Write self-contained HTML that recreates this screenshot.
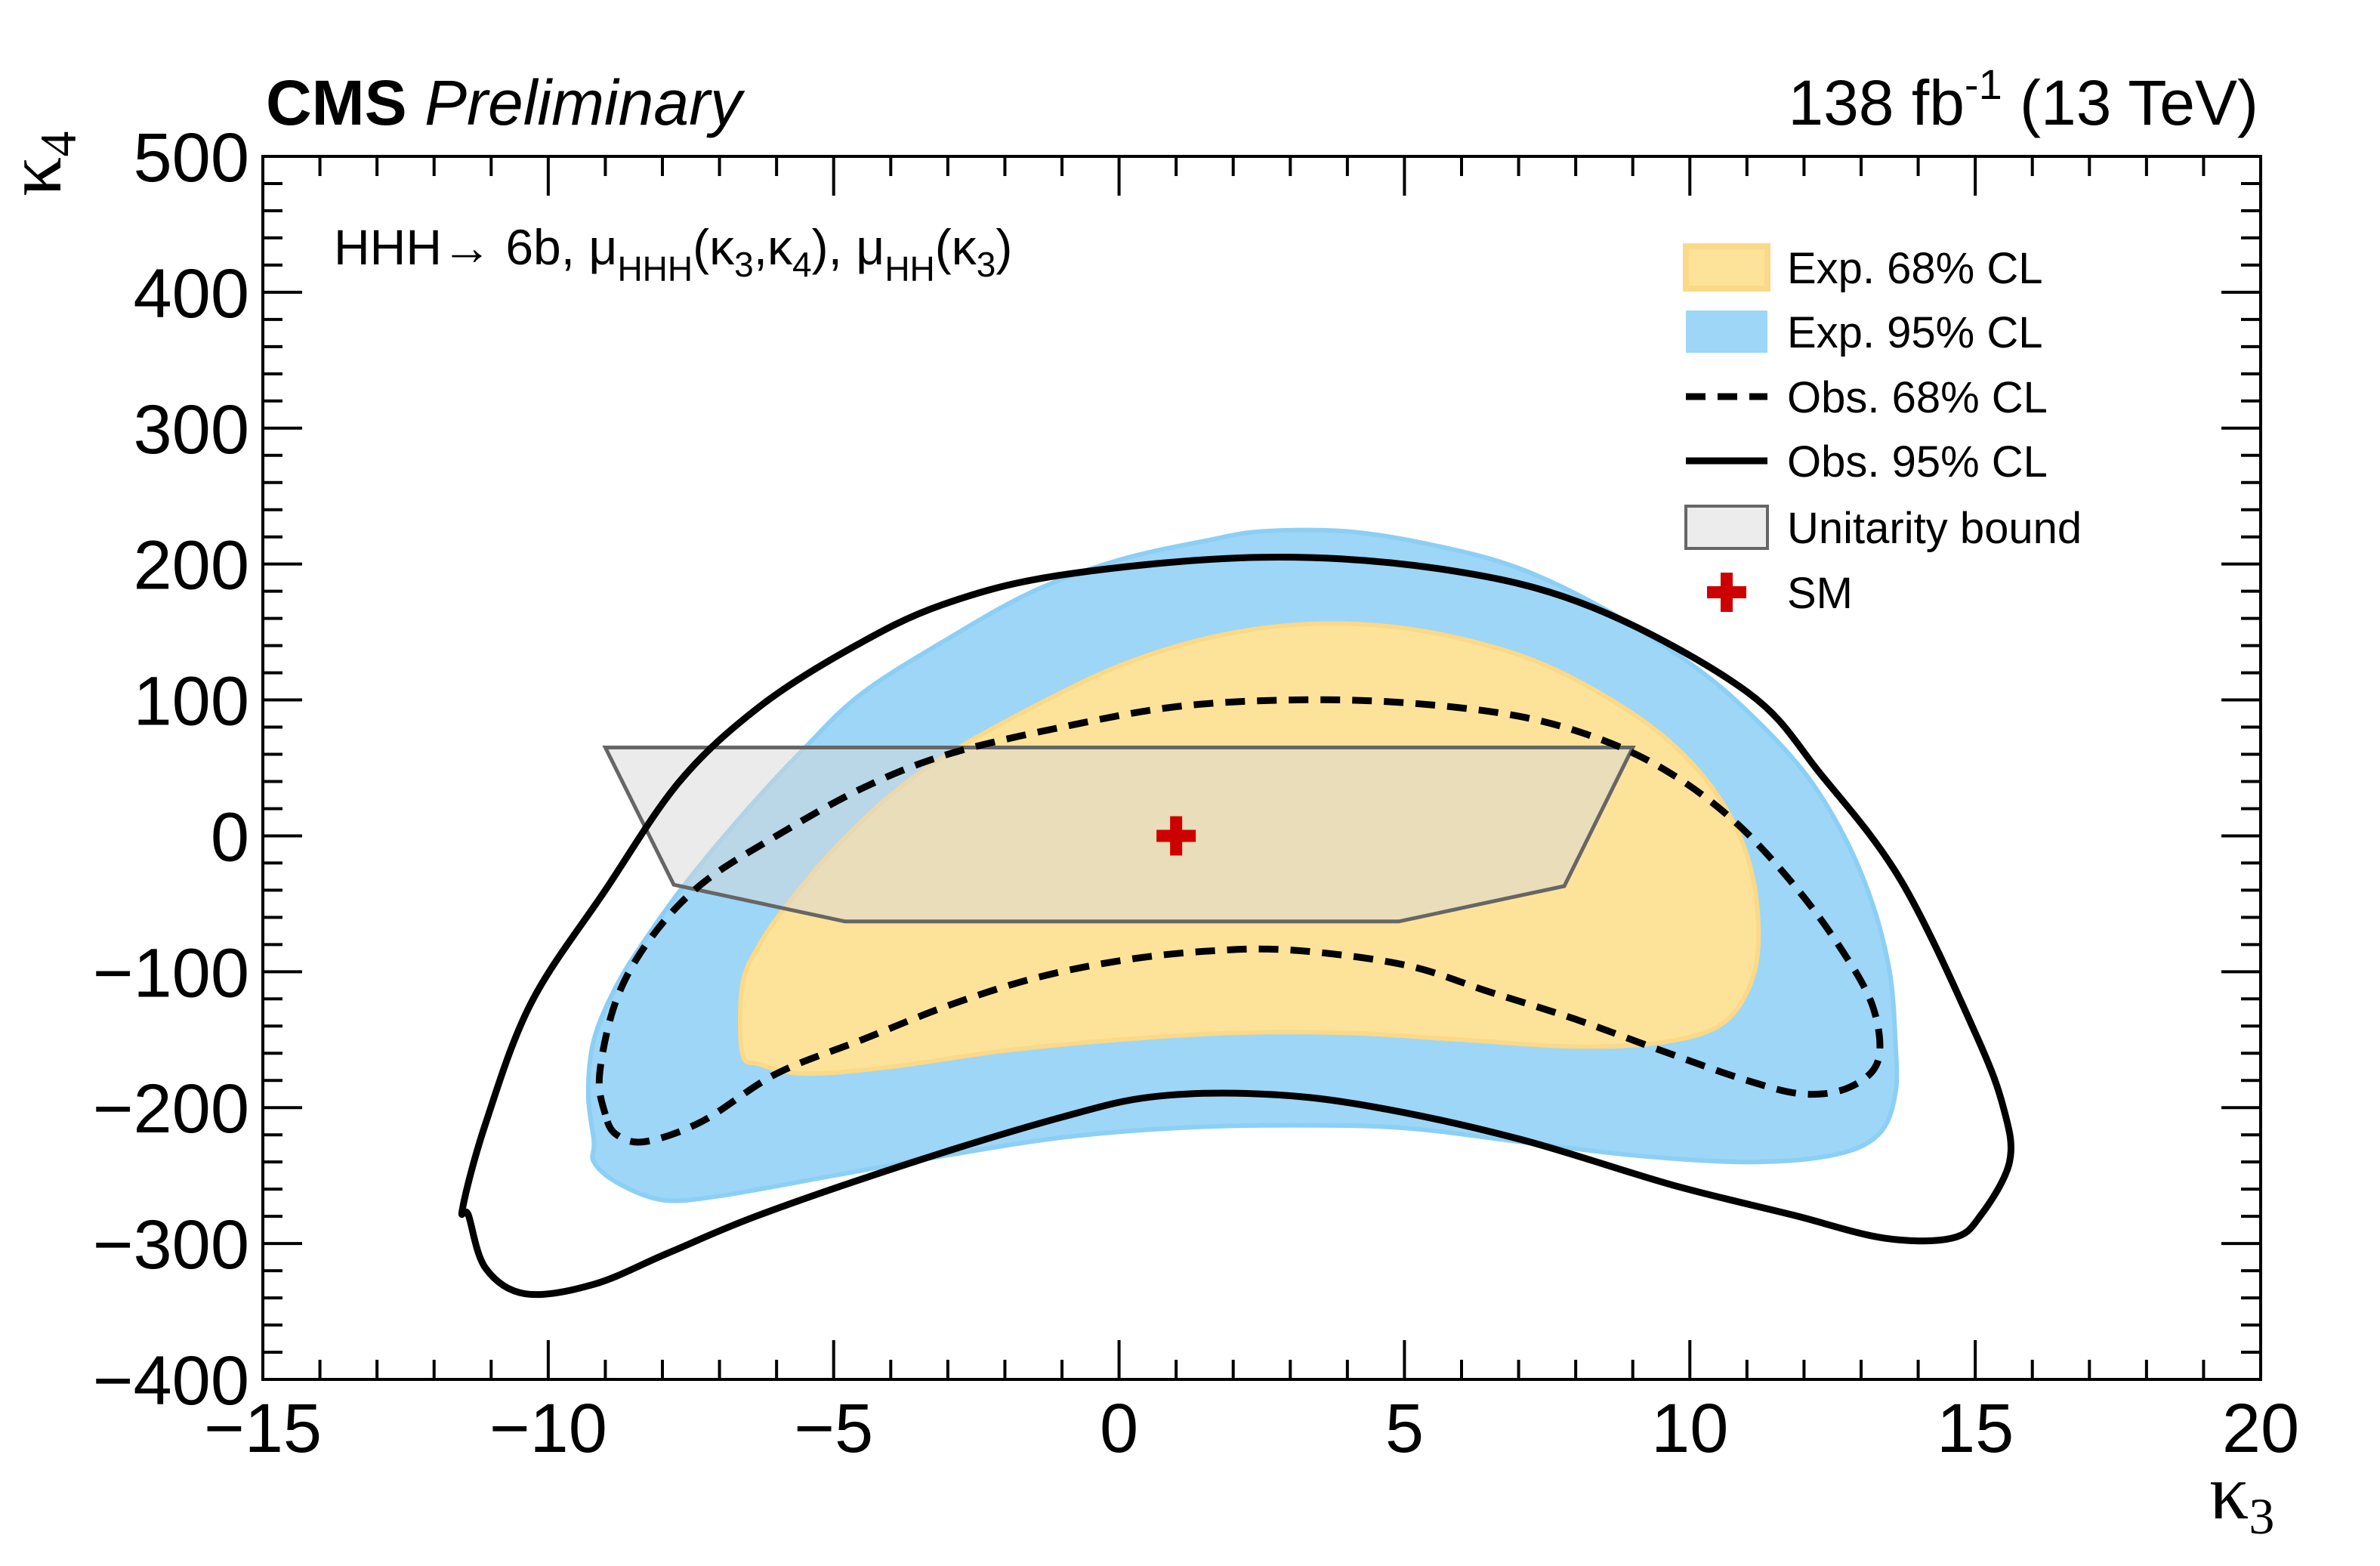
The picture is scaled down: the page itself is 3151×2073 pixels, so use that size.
<!DOCTYPE html>
<html><head><meta charset="utf-8"><style>
html,body{margin:0;padding:0;background:#fff}
svg{display:block}
text{font-family:"Liberation Sans",sans-serif;fill:#000}
</style></head><body>
<svg id="chart" width="3151" height="2073" viewBox="0 0 3151 2073" xmlns="http://www.w3.org/2000/svg">
<g id="marks"></g>
<g id="axes"></g>
<text x="352" y="165" font-size="84" font-weight="bold">CMS <tspan font-weight="normal" font-style="italic">Preliminary</tspan></text>
<text x="2990" y="165" font-size="84" text-anchor="end">138 fb<tspan font-size="56" dy="-34">-1</tspan><tspan dy="34"> (13 TeV)</tspan></text>
<text x="442" y="350" font-size="66">HHH→ 6b, μ<tspan font-size="46" dy="22">HHH</tspan><tspan dy="-22">(κ</tspan><tspan font-size="46" dy="16">3</tspan><tspan dy="-16">,κ</tspan><tspan font-size="46" dy="16">4</tspan><tspan dy="-16">), μ</tspan><tspan font-size="46" dy="22">HH</tspan><tspan dy="-22">(κ</tspan><tspan font-size="46" dy="16">3</tspan><tspan dy="-16">)</tspan></text>
<text transform="translate(80,260) rotate(-90)" font-size="104" style="font-family:'Liberation Serif',serif">κ<tspan font-size="68" dy="20">4</tspan></text>
<text x="2925" y="2010" font-size="104" style="font-family:'Liberation Serif',serif">κ<tspan font-size="68" dy="20">3</tspan></text>
<g id="legend"></g>
</svg>
<script>
const NS="http://www.w3.org/2000/svg";
const xTicks=[-15,-10,-5,0,5,10,15,20];
const yTicks=[-400,-300,-200,-100,0,100,200,300,400,500];
const exp95K3=[-9.2,-9.3,-9.2,-8.8,-8.2,-7.5,-6.5,-5.5,-4.5,-3,-1.5,0,1.5,2.5,4,5.5,7,8.5,10,11,12,12.7,13.2,13.5,13.6,13.6,13.3,12.5,11,9,7,5,3,1,-1,-3,-5,-7,-8,-8.8,-9.2];
const exp95K4=[-225,-190,-150,-110,-70,-30,20,65,105,145,180,203,217,224,224,214,197,167,127,92,47,0,-50,-100,-150,-190,-220,-235,-240,-235,-225,-215,-213,-215,-222,-235,-250,-265,-268,-255,-240];
const exp68K3=[-6.6,-6.6,-6.3,-5.8,-5,-4,-3,-1.5,0,1.5,3,4.5,6,7.5,9,10,10.7,11.1,11.2,11,10.5,9.5,8,6,4,2,0,-2,-4,-5.5,-6.3];
const exp68K4=[-160,-110,-80,-50,-10,30,60,95,125,145,155,155,145,125,90,55,15,-30,-80,-115,-140,-152,-155,-150,-145,-145,-150,-158,-170,-175,-168];
const obs68K3=[-9,-9.1,-8.8,-8.2,-7.3,-6,-4.5,-3,-1,1,3,5,7,8.5,9.7,10.8,11.8,12.6,13.2,13.3,12.8,12,11,9.5,8,6.5,5,3,1.5,0,-1.5,-3,-4.5,-6,-7.3,-8.3,-8.8];
const obs68K4=[-205,-175,-120,-75,-35,0,35,60,80,95,100,98,88,70,45,10,-35,-80,-125,-165,-185,-190,-180,-158,-135,-115,-95,-84,-85,-92,-105,-125,-150,-175,-210,-225,-220];
const obs95K3=[-11.5,-11.1,-10.3,-9,-7.7,-6.3,-4.7,-3.1,-1,2.5,5.7,8.3,11,12.3,13.7,15,15.5,15.6,15.1,14.6,13.4,11.8,9.7,7,4.4,2.5,0.6,-1,-3.6,-6.3,-7.9,-9.2,-10.4,-11.1,-11.4];
const obs95K4=[-274,-212,-123,-40,40,95,138,170,192,205,196,168,106,45,-33,-145,-201,-240,-279,-296,-296,-279,-257,-223,-199,-190,-192,-207,-240,-279,-307,-330,-337,-318,-279];
const unitK3=[-9,9,7.8,4.9,-4.8,-7.8];
const unitK4=[65,65,-37,-63,-63,-36];
const smK3=[1], smK4=[0];

const L=348,R=2993,T=207,B=1826,X0=-15,X1=20,Y0=-400,Y1=500;
const sx=v=>L+(v-X0)/(X1-X0)*(R-L);
const sy=v=>B-(v-Y0)/(Y1-Y0)*(B-T);
function el(tag,attrs,parent){const e=document.createElementNS(NS,tag);for(const k in attrs)e.setAttribute(k,attrs[k]);parent.appendChild(e);return e;}
function pts(xs,ys){return xs.map((x,i)=>sx(x).toFixed(1)+","+sy(ys[i]).toFixed(1)).join(" ");}
function smooth(xs,ys){const P=xs.map((x,i)=>[sx(x),sy(ys[i])]);const n=P.length;
 let d=`M${P[0][0].toFixed(1)},${P[0][1].toFixed(1)}`;
 for(let i=0;i<n;i++){const p0=P[(i-1+n)%n],p1=P[i],p2=P[(i+1)%n],p3=P[(i+2)%n];
  const c1=[p1[0]+(p2[0]-p0[0])/6,p1[1]+(p2[1]-p0[1])/6],c2=[p2[0]-(p3[0]-p1[0])/6,p2[1]-(p3[1]-p1[1])/6];
  d+=`C${c1[0].toFixed(1)},${c1[1].toFixed(1)} ${c2[0].toFixed(1)},${c2[1].toFixed(1)} ${p2[0].toFixed(1)},${p2[1].toFixed(1)}`;}
 return d+'Z';}
const marks=document.getElementById('marks');
let p;
p=el('path',{d:smooth(exp95K3,exp95K4),fill:'#9dd6f7',stroke:'#8ccff5','stroke-width':6,'stroke-linejoin':'round'},marks);


p=el('path',{d:smooth(exp68K3,exp68K4),fill:'#fde39a',stroke:'#fcd987','stroke-width':6,'stroke-linejoin':'round'},marks);


p=el('polygon',{points:pts(unitK3,unitK4),fill:'rgba(215,215,215,0.5)',stroke:'#666','stroke-width':5},marks);


p=el('path',{d:smooth(obs68K3,obs68K4),fill:'none',stroke:'#000','stroke-width':9,'stroke-dasharray':'26,16','stroke-linejoin':'round'},marks);


p=el('path',{d:smooth(obs95K3,obs95K4),fill:'none',stroke:'#000','stroke-width':9,'stroke-linejoin':'round'},marks);


smK3.forEach((k,i)=>{const cx=sx(k),cy=sy(smK4[i]);
 const g=el('path',{d:`M${cx-8},${cy-26}h16v18h18v16h-18v18h-16v-18h-18v-16h18z`,fill:'#cc0000'},marks);
 
 });

const ax=document.getElementById('axes');
const fr=el('rect',{x:L,y:T,width:R-L,height:B-T,fill:'none',stroke:'#000','stroke-width':4},ax);


for(let v=X0;v<=X1;v+=1){const maj=(v%5===0),len=maj?52:26,x=sx(v);
 el('line',{x1:x,y1:B,x2:x,y2:B-len,stroke:'#000','stroke-width':4},ax);
 el('line',{x1:x,y1:T,x2:x,y2:T+len,stroke:'#000','stroke-width':4},ax);}
for(let v=Y0;v<=Y1;v+=20){const maj=(v%100===0),len=maj?52:26,y=sy(v);
 el('line',{x1:L,y1:y,x2:L+len,y2:y,stroke:'#000','stroke-width':4},ax);
 el('line',{x1:R,y1:y,x2:R-len,y2:y,stroke:'#000','stroke-width':4},ax);}
xTicks.forEach(v=>{const t=el('text',{x:sx(v),y:1922,'font-size':92,'text-anchor':'middle'},ax);
 t.textContent=v<0?'\u2212'+(-v):String(v);
 
 });
yTicks.forEach(v=>{const t=el('text',{x:330,y:sy(v)+33,'font-size':92,'text-anchor':'end'},ax);
 t.textContent=v<0?'\u2212'+(-v):String(v);
 
 });

const lg=document.getElementById('legend');
const rows=[354,439,525,610,698,784];
const labels=['Exp. 68% CL','Exp. 95% CL','Obs. 68% CL','Obs. 95% CL','Unitarity bound','SM'];
const names=['legend-exp-68','legend-exp-95','legend-obs-68','legend-obs-95','legend-unitarity','legend-sm'];
rows.forEach((y,i)=>{
 const g=el('g',{},lg);
 
 
 if(i===0)el('rect',{x:2232,y:y-28,width:108,height:56,fill:'#fde39a',stroke:'#fcd987','stroke-width':8},g);
 if(i===1)el('rect',{x:2232,y:y-28,width:108,height:56,fill:'#9dd6f7'},g);
 if(i===2)el('line',{x1:2232,y1:y,x2:2340,y2:y,stroke:'#000','stroke-width':9,'stroke-dasharray':'26,16'},g);
 if(i===3)el('line',{x1:2232,y1:y,x2:2340,y2:y,stroke:'#000','stroke-width':9},g);
 if(i===4)el('rect',{x:2232,y:y-28,width:108,height:56,fill:'#ececec',stroke:'#666','stroke-width':4},g);
 if(i===5)el('path',{d:`M${2278},${y-26}h16v18h18v16h-18v18h-16v-18h-18v-16h18z`,fill:'#cc0000'},g);
 const t=el('text',{x:2366,y:y+21,'font-size':58},g);t.textContent=labels[i];});
</script>
</body></html>
